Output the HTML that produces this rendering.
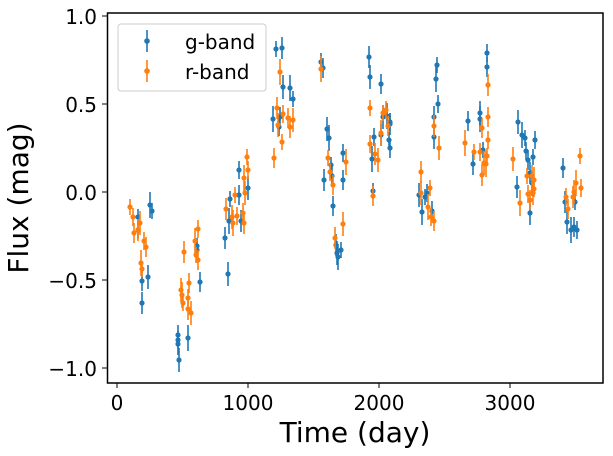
<!DOCTYPE html>
<html><head><style>body{margin:0;background:#fff}svg{display:block}text{font-family:"DejaVu Sans",sans-serif;fill:#000}</style></head>
<body>
<svg id="s" width="613" height="456" xmlns="http://www.w3.org/2000/svg">
<rect x="0" y="0" width="613" height="456" fill="#fff"/>
<g id="pts"></g>
<rect x="107.5" y="13" width="495.5" height="370" fill="none" stroke="#000" stroke-width="1.5"/>
<g stroke="#000" stroke-width="1">
<line x1="117" y1="383" x2="117" y2="388"/><line x1="248" y1="383" x2="248" y2="388"/><line x1="379" y1="383" x2="379" y2="388"/><line x1="510" y1="383" x2="510" y2="388"/>
<line x1="102" y1="16" x2="107" y2="16"/><line x1="102" y1="104" x2="107" y2="104"/><line x1="102" y1="192" x2="107" y2="192"/><line x1="102" y1="280" x2="107" y2="280"/><line x1="102" y1="368" x2="107" y2="368"/>
</g>
<g font-size="20" text-anchor="middle">
<text x="117" y="410">0</text><text x="248" y="410">1000</text><text x="379" y="410">2000</text><text x="510" y="410">3000</text>
</g>
<g font-size="20" text-anchor="end">
<text x="97" y="24">1.0</text><text x="97" y="112">0.5</text><text x="97" y="200">0.0</text><text x="97" y="288">−0.5</text><text x="97" y="376">−1.0</text>
</g>
<text x="355" y="442" font-size="28" text-anchor="middle">Time (day)</text>
<text transform="translate(28,198) rotate(-90)" font-size="28" text-anchor="middle">Flux (mag)</text>
<rect x="118" y="24" width="148" height="67" rx="3" fill="#fff" stroke="#ccc" stroke-width="1"/>
<line x1="147" y1="30" x2="147" y2="52" stroke="#1f77b4" stroke-width="1.6"/><circle cx="147" cy="41" r="2.8" fill="#1f77b4"/>
<line x1="147" y1="60" x2="147" y2="82" stroke="#ff7f0e" stroke-width="1.6"/><circle cx="147" cy="71" r="2.8" fill="#ff7f0e"/>
<text x="185" y="49" font-size="20">g-band</text>
<text x="185" y="79" font-size="20">r-band</text>
</svg>
<script>
var B=[[138,217],[138,230],[142,281],[142,303],[148,277],[150,205],[152,211],[178,340],[178,335],[178,344],[179,360],[188,338],[197,246],[197,250],[200,282],[225,238],[228,274],[229,221],[230,199],[239,170],[239,195],[241,221],[248,188],[273,119],[276,49],[279,127],[280,117],[282,48],[283,87],[290,88],[293,99],[321,62],[323,68],[324,180],[327,129],[329,138],[331,165],[332,176],[333,206],[336,245],[337,253],[338,257],[341,250],[343,153],[343,180],
[369,57],[370,77],[372,159],[373,191],[374,137],[381,84],[381,135],[383,117],[387,116],[389,140],[390,122],[390,148],[390,124],[419,195],[422,212],[425,197],[427,193],[432,211],[434,117],[434,137],[436,79],[437,65],[438,104],[468,121],[473,164],[480,113],[480,119],[483,150],[487,53],[487,67],[517,187],[518,122],[522,135],[525,138],[526,151],[528,160],[530,173],[530,213],[532,183],[533,157],[535,140],[563,168],[565,202],[567,222],[571,230],[575,202],[577,230],[574,227]];
var O=[[130,207],[133,217],[134,233],[138,230],[140,223],[141,263],[142,269],[144,241],[146,247],[184,252],[181,290],[182,295],[183,303],[188,298],[189,283],[188,309],[191,313],[195,241],[196,255],[198,229],[198,260],[226,209],[232,217],[233,223],[235,195],[237,216],[243,213],[244,223],[245,193],[244,178],[247,157],[248,170],[274,158],[277,108],[278,125],[280,72],[282,142],[283,114],[288,118],[290,127],[293,120],[321,69],[328,158],[330,172],[333,185],[335,238],[343,224],[346,162],
[370,108],[370,144],[373,196],[375,154],[378,160],[381,133],[383,113],[386,110],[388,126],[421,172],[421,193],[428,207],[430,188],[431,217],[434,221],[434,126],[439,148],[465,143],[474,152],[480,152],[482,128],[482,175],[484,163],[486,164],[487,156],[488,140],[488,117],[488,85],[513,159],[520,203],[527,176],[528,194],[530,200],[532,176],[533,193],[534,180],[534,189],[566,197],[568,209],[573,197],[574,192],[576,183],[580,156],[581,188]];
var g=document.getElementById('pts'),h='';
function add(a,c){a.forEach(function(p,i){var e=8+((i*7)%6);h+='<line x1="'+p[0]+'" y1="'+(p[1]-e)+'" x2="'+p[0]+'" y2="'+(p[1]+e)+'" stroke="'+c+'" stroke-width="1.6"/><circle cx="'+p[0]+'" cy="'+p[1]+'" r="2.6" fill="'+c+'"/>';});}
add(B,'#1f77b4');add(O,'#ff7f0e');g.innerHTML=h;
</script>
</body></html>
